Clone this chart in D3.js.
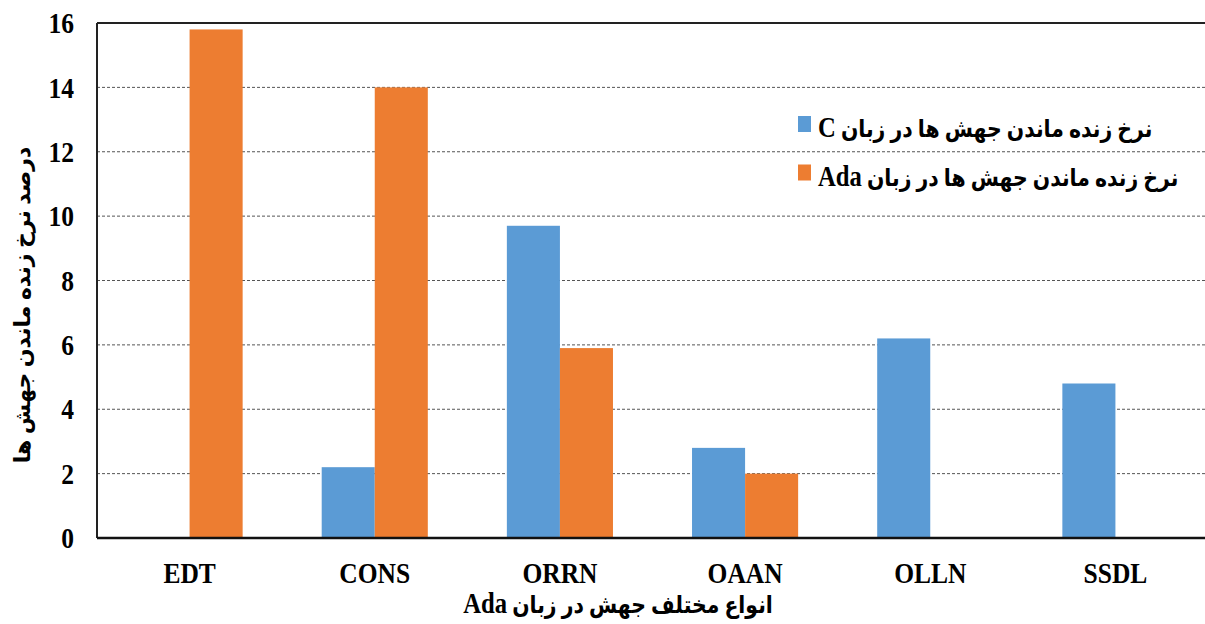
<!DOCTYPE html>
<html>
<head>
<meta charset="utf-8">
<script src="https://cdn.jsdelivr.net/npm/d3@7/dist/d3.min.js"></script>
<style>
  html, body { margin: 0; padding: 0; background: #fff; }
  svg { display: block; }
  .tick-label { font-family: "Liberation Serif", "Times New Roman", serif; font-weight: bold; font-size: 30px; fill: #000; }
  .fa { font-family: "Liberation Serif", "DejaVu Sans", "Noto Sans", serif; font-weight: bold; fill: #000; }
</style>
</head>
<body>
<svg id="chart" width="1205" height="624"></svg>
<script>
// Mutation types and survival rates (%)
const categories = ["EDT", "CONS", "ORRN", "OAAN", "OLLN", "SSDL"];
const seriesNames = ["نرخ زنده ماندن جهش ها در زبان C", "نرخ زنده ماندن جهش ها در زبان Ada"];
const valuesC   = [0, 2.2, 9.7, 2.8, 6.2, 4.8];
const valuesAda = [15.8, 14.0, 5.9, 2.0, 0, 0];
const yTicks = [0, 2, 4, 6, 8, 10, 12, 14, 16];
const colors = ["#5b9bd5", "#ed7d31"];
const yTitle = "درصد نرخ زنده ماندن جهش ها";
const xTitle = "انواع مختلف جهش در زبان Ada";

const svg = d3.select("#chart");
const plotLeft = 97, plotRight = 1208, plotTop = 23, plotBottom = 538;
const squeeze = 0.85; // narrow serif look for labels

// Persian label with embedded Latin words set a little larger
function mixedText(sel, str, latinSize) {
  str.split(/([A-Za-z]+)/).filter(s => s.length).forEach(part => {
    const t = sel.append("tspan").text(part);
    if (/[A-Za-z]/.test(part)) t.attr("font-size", latinSize);
  });
}

const x = d3.scaleBand().domain(categories).range([plotLeft, plotRight]).paddingInner(0).paddingOuter(0);
const xs = d3.scaleBand().domain([0, 1]).range([0, x.bandwidth()]).paddingInner(0).paddingOuter(0.745);
const y = d3.scaleLinear().domain([0, 16]).range([plotBottom, plotTop]);

// gridlines
svg.append("g").selectAll("line").data(yTicks.filter(t => t > 0 && t < 16)).join("line")
  .attr("x1", plotLeft).attr("x2", 1205)
  .attr("y1", d => y(d)).attr("y2", d => y(d))
  .attr("stroke", "#555").attr("stroke-width", 1).attr("stroke-dasharray", "3,2");

// bars
const series = [valuesC, valuesAda];
series.forEach((vals, si) => {
  svg.append("g").selectAll("rect").data(categories.map((c, i) => ({c, v: vals[i]}))).join("rect")
    .attr("x", d => x(d.c) + xs(si))
    .attr("width", xs.bandwidth())
    .attr("y", d => y(d.v))
    .attr("height", d => y(0) - y(d.v))
    .attr("fill", colors[si]);
});

// frame: top, left, bottom
svg.append("line").attr("x1", plotLeft).attr("x2", 1205).attr("y1", y(16)).attr("y2", y(16)).attr("stroke", "#222").attr("stroke-width", 2);
svg.append("line").attr("x1", plotLeft).attr("x2", plotLeft).attr("y1", y(16)).attr("y2", y(0)).attr("stroke", "#222").attr("stroke-width", 2);
svg.append("line").attr("x1", plotLeft).attr("x2", 1205).attr("y1", y(0)).attr("y2", y(0)).attr("stroke", "#111").attr("stroke-width", 2.5);

// y tick labels
svg.append("g").selectAll("text").data(yTicks).join("text")
  .attr("class", "tick-label")
  .attr("transform", d => `translate(74,${y(d)}) scale(${squeeze},1)`)
  .attr("dy", "0.34em")
  .attr("text-anchor", "end").text(d => d);

// x tick labels
svg.append("g").selectAll("text").data(categories).join("text")
  .attr("class", "tick-label")
  .attr("transform", d => `translate(${x(d) + x.bandwidth() / 2},583) scale(${squeeze},1)`)
  .attr("text-anchor", "middle").text(d => d);

// axis titles
svg.append("text").attr("class", "fa").attr("font-size", 22)
  .attr("transform", "translate(30,305) rotate(-90)")
  .attr("direction", "rtl").attr("text-anchor", "middle").text(yTitle);
const xt = svg.append("text").attr("class", "fa").attr("font-size", 24)
  .attr("transform", `translate(618,613) scale(${squeeze},1)`)
  .attr("direction", "rtl").attr("text-anchor", "middle");
mixedText(xt, xTitle, 29);

// legend
const legend = svg.append("g");
seriesNames.forEach((name, i) => {
  const ly = 124 + i * 48.5;
  legend.append("rect").attr("x", 798).attr("y", ly - 8).attr("width", 13).attr("height", 16).attr("fill", colors[i]);
  const lt = legend.append("text").attr("class", "fa").attr("font-size", 24)
    .attr("transform", `translate(818,${ly + 13}) scale(${squeeze},1)`)
    .attr("direction", "rtl").attr("text-anchor", "end");
  mixedText(lt, name, 29);
});
</script>
</body>
</html>
